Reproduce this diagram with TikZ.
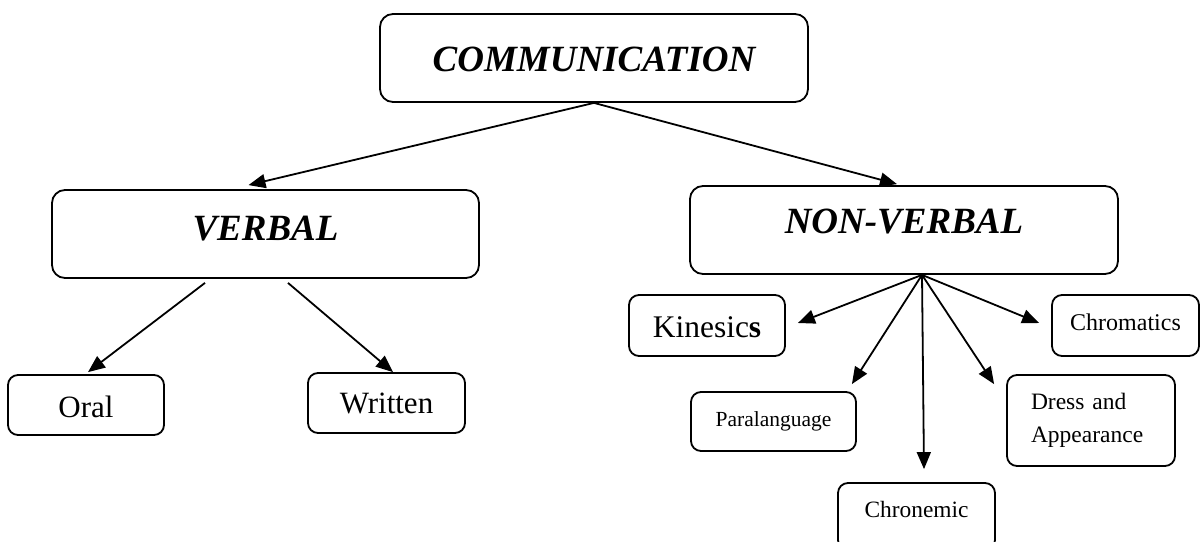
\documentclass[tikz,border=0pt]{standalone}
\usepackage{fontspec}
\setmainfont{Liberation Serif}
\usetikzlibrary{arrows.meta}
\tikzset{
  bigbox/.style={draw, line width=1.8pt, rounded corners=13pt, inner sep=0pt,
    font=\fontsize{37}{40}\selectfont\bfseries\itshape},
  smallbox/.style={draw, line width=1.8pt, rounded corners=10pt, inner sep=0pt},
  arr/.style={line width=1.8pt, -{Triangle[length=17pt,width=14pt]}}
}
\begin{document}
\begin{tikzpicture}[x=1pt,y=-1pt]
\clip (0,0) rectangle (1201,541);
\fill[white] (0,0) rectangle (1201,541);
% top level
\node[bigbox, minimum width=428pt, minimum height=88pt, text height=26pt, text depth=0pt] (comm) at (594,58) {COMMUNICATION};
\node[bigbox, minimum width=427pt, minimum height=88pt, text height=25pt, text depth=13pt] (verbal) at (265.5,234) {VERBAL};
\node[bigbox, minimum width=428pt, minimum height=88pt, text height=26pt, text depth=20pt] (nonverbal) at (904,230) {NON-VERBAL};
% verbal children
\node[smallbox, minimum width=156pt, minimum height=60pt, text height=24pt, text depth=0pt, font=\fontsize{31}{34}\selectfont] (oral) at (86,405) {Oral};
\node[smallbox, minimum width=157pt, minimum height=60pt, text height=20pt, text depth=0pt, font=\fontsize{31}{34}\selectfont] (written) at (386.5,403) {Written};
% non-verbal children
\node[smallbox, minimum width=156pt, minimum height=61pt, text height=23pt, text depth=0pt, font=\fontsize{31.5}{34}\selectfont] (kinesics) at (707,325.5) {Kinesic\textbf{s}};
\node[smallbox, minimum width=165pt, minimum height=59pt, text height=15pt, text depth=6pt, font=\fontsize{21.5}{24}\selectfont] (para) at (773.5,421.5) {Paralanguage};
\node[smallbox, minimum width=157pt, minimum height=67pt, text height=16pt, text depth=15pt, font=\fontsize{23.4}{26}\selectfont] (chron) at (916.5,516.5) {Chronemic};
\node[smallbox, minimum width=168pt, minimum height=91pt, text width=120pt, align=left, font=\fontsize{23.5}{33}\selectfont] (dress) at (1091,420.5) {Dress and\\Appearance};
\node[smallbox, minimum width=147pt, minimum height=61pt, text height=17pt, text depth=8pt, font=\fontsize{24}{27}\selectfont] (chrom) at (1125.5,325.5) {Chromatics};
% connectors
\draw[arr] (comm.south) -- ([xshift=-17pt,yshift=4pt]verbal.north);
\draw[arr] (comm.south) -- ([xshift=-7pt,yshift=1pt]nonverbal.north);
\draw[arr] ([xshift=-60.5pt,yshift=-4pt]verbal.south) -- ([xshift=2pt,yshift=2pt]oral.north);
\draw[arr] ([xshift=22.5pt,yshift=-4pt]verbal.south) -- ([xshift=6.5pt]written.north);
\coordinate (fan) at ([xshift=18pt]nonverbal.south);
\draw[arr] (fan) -- ([xshift=12pt,yshift=2.5pt]kinesics.east);
\draw[arr] (fan) -- ([xshift=-5pt,yshift=7pt]para.north east);
\draw[arr] (fan) -- ([xshift=7.5pt,yshift=13pt]chron.north);
\draw[arr] (fan) -- ([xshift=-12pt,yshift=-10pt]dress.north west);
\draw[arr] (fan) -- ([xshift=-12pt,yshift=2.5pt]chrom.west);
\end{tikzpicture}
\end{document}
